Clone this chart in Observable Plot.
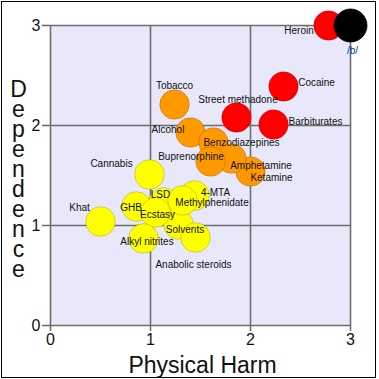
<!DOCTYPE html>
<html>
<head>
<meta charset="utf-8">
<script src="https://cdn.jsdelivr.net/npm/d3@7"></script>
<script src="https://cdn.jsdelivr.net/npm/@observablehq/plot@0.6"></script>
<style>
  html, body { margin: 0; padding: 0; background: #fff; }
  #wrap { position: relative; width: 379px; height: 379px; }
  #border { position: absolute; left: 1px; top: 1px; width: 372.5px; height: 374.5px;
            border: 1.5px solid #000; pointer-events: none; }
</style>
</head>
<body>
<div id="wrap"><div id="border"></div></div>
<script>
// ---- data ----
const drugs = ["Heroin", "Cocaine", "Barbiturates", "Street methadone", "Alcohol", "Ketamine",
  "Benzodiazepines", "Amphetamine", "Tobacco", "Buprenorphine", "Cannabis", "Solvents",
  "4-MTA", "LSD", "Methylphenidate", "Anabolic steroids", "GHB", "Ecstasy", "Alkyl nitrites",
  "Khat", "/b/"];
const physicalHarm = [2.78, 2.33, 2.23, 1.86, 1.40, 2.00, 1.63, 1.81, 1.24, 1.60, 0.99, 1.28,
  1.44, 1.13, 1.32, 1.45, 0.86, 1.05, 0.93, 0.50, 3.00];
const dependence = [3.00, 2.39, 2.01, 2.08, 1.93, 1.54, 1.83, 1.67, 2.21, 1.64, 1.51, 1.01,
  1.30, 1.23, 1.25, 0.88, 1.19, 1.13, 0.87, 1.04, 3.00];
const harmClass = ["high", "high", "high", "high", "medium", "medium", "medium", "medium", "medium",
  "medium", "low", "low", "low", "low", "low", "low", "low", "low", "low", "low", "b"];
const classNames = ["high", "medium", "low", "b"];
const classColors = ["#ff0000", "#ff9900", "#ffff00", "#000000"];
const axisTicks = [0, 1, 2, 3];
const xTitle = "Physical Harm";
const yTitle = "Dependence";

// label placement (pixel offsets from each circle centre)
const labelOffset = {
  "Heroin": [-29.5, 5], "Cocaine": [33, -4], "Barbiturates": [42, -3],
  "Street methadone": [1.5, -18], "Tobacco": [0, -19], "Alcohol": [-22.5, -3],
  "Benzodiazepines": [28, 0], "Buprenorphine": [-19.5, -4.5], "Amphetamine": [29.5, 7],
  "Ketamine": [21, 6], "Cannabis": [-38, -11], "Khat": [-21, -14], "GHB": [-5.5, 1],
  "LSD": [-3, -8], "Ecstasy": [2, 2], "4-MTA": [21, -3], "Methylphenidate": [29.5, 2],
  "Solvents": [6.5, 5], "Alkyl nitrites": [3.5, 3], "Anabolic steroids": [-2, 27], "/b/": [2, 25]
};

const data = drugs.map((name, i) => ({
  name, x: physicalHarm[i], y: dependence[i], cls: harmClass[i]
}));

const gridColor = "#6e6e6e";
const font = "'Liberation Sans', Arial, sans-serif";

const labelMarks = data.map(d => Plot.text([d], {
  x: "x", y: "y", text: "name",
  dx: labelOffset[d.name][0], dy: labelOffset[d.name][1],
  fontSize: 10, textAnchor: "middle", lineAnchor: "middle",
  fill: d.name === "/b/" ? "#0b2f9e" : "#111"
}));

const chart = Plot.plot({
  width: 379, height: 379,
  marginLeft: 50, marginRight: 29, marginTop: 25, marginBottom: 54,
  style: { fontFamily: font, background: "transparent", overflow: "visible" },
  x: { domain: [0, 3] },
  y: { domain: [0, 3] },
  color: { domain: classNames, range: classColors },
  marks: [
    Plot.frame({ fill: "#e8e8fa", stroke: null }),
    Plot.gridX(axisTicks, { stroke: gridColor, strokeOpacity: 1, strokeWidth: 1.6 }),
    Plot.gridY(axisTicks, { stroke: gridColor, strokeOpacity: 1, strokeWidth: 1.6 }),
    Plot.axisX(axisTicks, { tickSize: 6, tickPadding: 2, fontSize: 16, stroke: gridColor,
      strokeWidth: 1.6, fill: "#111", label: null, tickFormat: d => String(d) }),
    Plot.axisY(axisTicks, { tickSize: 8, tickPadding: 2, fontSize: 16, stroke: gridColor,
      strokeWidth: 1.6, fill: "#111", label: null, tickFormat: d => String(d) }),
    Plot.dot(data.filter(d => d.cls !== "b"), { x: "x", y: "y", r: 14.8, fill: "cls",
      stroke: "#000", strokeOpacity: 0.22, strokeWidth: 0.8 }),
    Plot.dot(data.filter(d => d.cls === "b"), { x: "x", y: "y", r: 16.5, fill: "cls",
      stroke: "#000", strokeWidth: 0.8 }),
    ...labelMarks,
    Plot.text([xTitle], { frameAnchor: "bottom", dy: 40, dx: 2, fontSize: 23,
      lineAnchor: "middle", fill: "#111" }),
    Plot.text([yTitle.split("").join("\n")], { frameAnchor: "left", dx: -32, dy: 5,
      fontSize: 23, lineHeight: 0.87, textAnchor: "middle", lineAnchor: "middle", fill: "#111" })
  ]
});

document.getElementById("wrap").prepend(chart);
</script>
</body>
</html>
